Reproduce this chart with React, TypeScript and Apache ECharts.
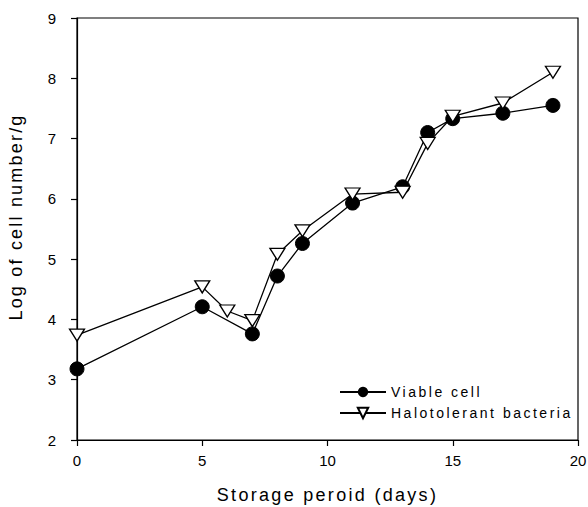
import React, { useEffect, useRef } from "react";
import * as echarts from "echarts";

const viableDays = [0, 5, 7, 8, 9, 11, 13, 14, 15, 17, 19];
const viableLog = [3.18, 4.21, 3.76, 4.72, 5.26, 5.93, 6.2, 7.1, 7.33, 7.42, 7.55];
const haloDays = [0, 5, 6, 7, 8, 9, 11, 13, 14, 15, 17, 19];
const haloLog = [3.74, 4.54, 4.14, 3.98, 5.08, 5.47, 6.08, 6.11, 6.92, 7.37, 7.59, 8.1];
const seriesNames = ["Viable cell", "Halotolerant bacteria"];
const xTitle = "Storage peroid (days)";
const yTitle = "Log of cell number/g";

const FONT = "'Liberation Sans', Arial, Helvetica, sans-serif";

export default function App() {
  const ref = useRef<HTMLDivElement>(null);
  useEffect(() => {
    document.body.style.margin = "0";
    document.documentElement.style.overflow = "hidden";
    if (!ref.current) return;
    const chart = echarts.init(ref.current, undefined, { renderer: "svg" });
    const pair = (xs: number[], ys: number[]) => xs.map((x, i) => [x, ys[i]]);
    chart.setOption({
      animation: false,
      backgroundColor: "#fff",
      textStyle: { fontFamily: FONT, color: "#000" },
      grid: {
        left: 77,
        right: 10,
        top: 18,
        bottom: 67,
        containLabel: false,
        outerBoundsMode: "none",
        show: true,
        borderColor: "#000",
        borderWidth: 1.2,
        backgroundColor: "transparent",
      },
      legend: {
        orient: "vertical",
        left: 334,
        top: 380,
        itemWidth: 46,
        itemHeight: 13,
        itemGap: 7,
        textStyle: { fontFamily: FONT, fontSize: 14, color: "#000" },
        data: seriesNames,
      },
      xAxis: {
        type: "value",
        min: 0,
        max: 20,
        interval: 5,
        name: xTitle,
        nameLocation: "middle",
        nameGap: 46,
        nameTextStyle: { fontFamily: FONT, fontSize: 18, color: "#000" },
        axisLine: { show: true, lineStyle: { color: "#000", width: 1.2 } },
        axisTick: { show: true, length: 6, lineStyle: { color: "#000", width: 1.2 } },
        axisLabel: { color: "#000", fontSize: 15, margin: 13, fontFamily: FONT },
        splitLine: { show: false },
      },
      yAxis: {
        type: "value",
        min: 2,
        max: 9,
        interval: 1,
        name: yTitle,
        nameLocation: "middle",
        nameGap: 52,
        nameTextStyle: { fontFamily: FONT, fontSize: 18, color: "#000", padding: [0, 0, 0, 24] },
        axisLine: { show: true, lineStyle: { color: "#000", width: 1.2 } },
        axisTick: { show: true, length: 6, lineStyle: { color: "#000", width: 1.2 } },
        axisLabel: { color: "#000", fontSize: 15, margin: 21, fontFamily: FONT },
        splitLine: { show: false },
      },
      series: [
        {
          name: seriesNames[0],
          type: "line",
          data: pair(viableDays, viableLog),
          symbol: "circle",
          symbolSize: 14,
          z: 3,
          lineStyle: { color: "#000", width: 1.3 },
          itemStyle: { color: "#000", borderColor: "#000" },
        },
        {
          name: seriesNames[1],
          type: "line",
          data: pair(haloDays, haloLog),
          symbol: "triangle",
          symbolRotate: 180,
          symbolSize: [15, 12],
          z: 4,
          lineStyle: { color: "#000", width: 1.3 },
          itemStyle: { color: "#fff", borderColor: "#000", borderWidth: 1.3 },
        },
      ],
    });
    const spaced: Record<string, string> = {
      [xTitle]: "2.3px",
      [yTitle]: "2.2px",
      [seriesNames[0]]: "2.5px",
      [seriesNames[1]]: "2.5px",
    };
    const apply = () => {
      const dom = chart.getDom();
      if (!dom) return;
      dom.querySelectorAll("text").forEach((t) => {
        const s = spaced[(t.textContent || "").trim()];
        if (s) (t as SVGTextElement).style.letterSpacing = s;
      });
    };
    apply();
    chart.on("finished", apply);
    const raf = requestAnimationFrame(apply);
    return () => {
      cancelAnimationFrame(raf);
      chart.dispose();
    };
  }, []);
  return <div ref={ref} style={{ width: 588, height: 507 }} />;
}
